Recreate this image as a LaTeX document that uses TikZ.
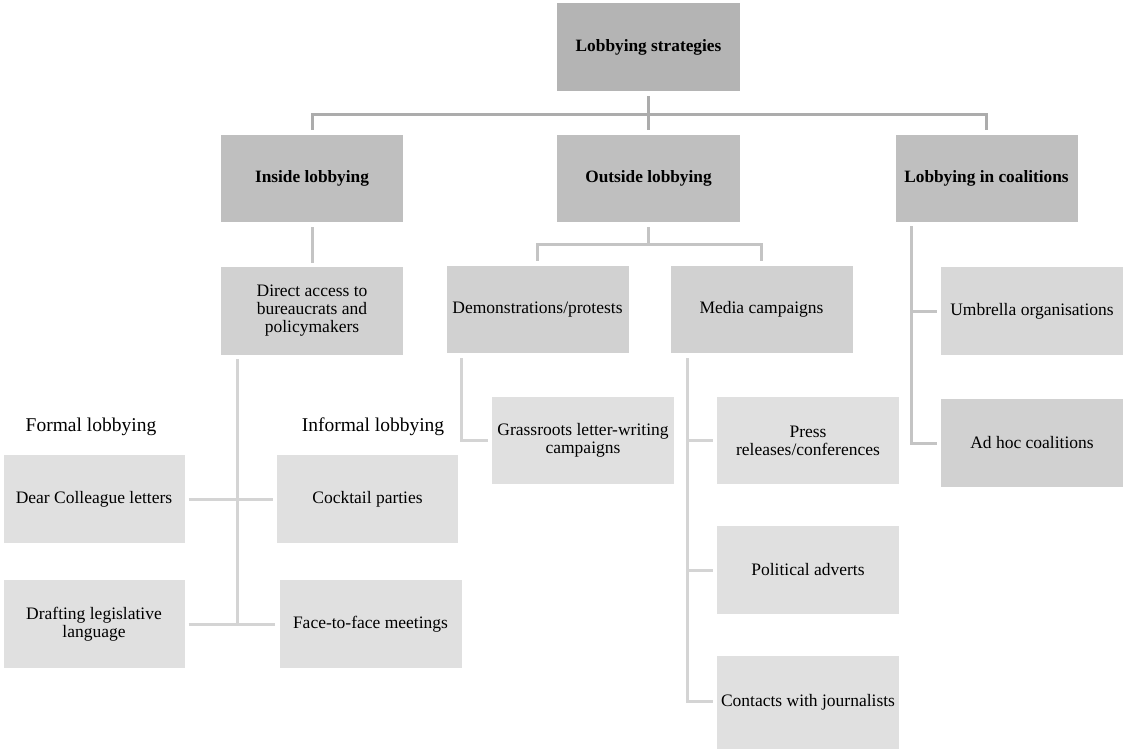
\documentclass[tikz,border=0pt]{standalone}
\usepackage{fontspec}
\setmainfont{Liberation Serif}
\usepackage{xcolor}
\definecolor{boxtop}{RGB}{180,180,180}
\definecolor{boxmain}{RGB}{191,191,191}
\definecolor{boxsub}{RGB}{209,209,209}
\definecolor{boxumb}{RGB}{216,216,216}
\definecolor{boxleaf}{RGB}{224,224,224}
\definecolor{linktop}{RGB}{172,172,172}
\definecolor{linkmain}{RGB}{196,196,196}
\definecolor{linksub}{RGB}{212,212,212}

\begin{document}
\begin{tikzpicture}[x=1pt,y=-1pt,
  box/.style={rectangle,inner sep=0pt,minimum width=182pt,minimum height=88pt,
    align=center,font=\fontsize{17.5}{18}\selectfont},
  headbox/.style={box,font=\bfseries\fontsize{17.3}{20}\selectfont},
  label/.style={inner sep=0pt,font=\fontsize{19.5}{20}\selectfont},
  ltop/.style={draw=linktop,line width=3pt},
  lmain/.style={draw=linkmain,line width=3pt},
  lsub/.style={draw=linksub,line width=3pt}]
  \useasboundingbox (0,0) rectangle (1123,749);
  \node[headbox,fill=boxtop,minimum width=183pt] (top) at (648.5,47) {Lobbying strategies};
  \node[headbox,fill=boxmain,minimum height=87pt] (inside) at (312,178.5) {Inside lobbying};
  \node[headbox,fill=boxmain,minimum height=87pt,minimum width=183pt] (outside) at (648.5,178.5) {Outside lobbying};
  \node[headbox,fill=boxmain,minimum height=87pt] (coal) at (986.5,178.5) {Lobbying in coalitions};
  \node[box,fill=boxsub] (direct) at (312,311) {Direct access to\\bureaucrats and\\policymakers};
  \node[box,fill=boxsub,minimum height=87pt] (demo) at (537.5,309.5) {Demonstrations/protests};
  \node[box,fill=boxsub,minimum height=87pt] (media) at (761.5,309.5) {Media campaigns};
  \node[box,fill=boxumb] (umb) at (1032,311) {Umbrella organisations};
  \node[box,fill=boxsub] (adhoc) at (1032,443) {Ad hoc coalitions};
  \node[box,fill=boxleaf,minimum height=87pt] (grass) at (583,440.5) {Grassroots letter-writing\\campaigns};
  \node[box,fill=boxleaf,minimum height=87pt] (press) at (808,440.5) {Press\\releases/conferences};
  \node[box,fill=boxleaf] (political) at (808,570) {Political adverts};
  \node[box,fill=boxleaf,minimum height=93pt] (contacts) at (808,702.5) {Contacts with journalists};
  \node[label] (formal) at (91,427) {Formal lobbying};
  \node[label] (informal) at (373,427) {Informal lobbying};
  \node[box,fill=boxleaf,minimum width=181pt] (dear) at (94,499) {Dear Colleague letters};
  \node[box,fill=boxleaf,minimum width=181pt] (cocktail) at (367.5,499) {Cocktail parties};
  \node[box,fill=boxleaf,minimum width=181pt] (drafting) at (94,624) {Drafting legislative\\language};
  \node[box,fill=boxleaf] (face) at (370.5,624) {Face-to-face meetings};
  \coordinate (tj) at (648.5,115);
  \draw[ltop] ([yshift=-5pt]top.south) -- (tj);
  \draw[ltop] ([yshift=5pt]inside.north) |- (tj) -| ([yshift=5pt]coal.north);
  \draw[ltop] (tj) -- ([yshift=5pt]outside.north);
  \draw[lmain] ([yshift=-5pt]inside.south) -- ([yshift=4pt]direct.north);
  \coordinate (oj) at ([yshift=-22pt]outside.south);
  \draw[lmain] ([yshift=-5pt]outside.south) -- (oj);
  \draw[lmain] ([yshift=5pt]demo.north) |- (oj) -| ([yshift=5pt]media.north);
  \coordinate (cv) at ([xshift=16pt,yshift=-4pt]coal.south west);
  \draw[lmain] (cv) |- ([xshift=-4pt]adhoc.west);
  \draw[lmain] (cv |- umb.west) -- ([xshift=-4pt]umb.west);
  \coordinate (dv) at ([xshift=17pt,yshift=-4pt]direct.south west);
  \draw[lsub] (dv) -- (dv |- face.west);
  \draw[lsub] ([xshift=4pt]dear.east) -- ([xshift=-4pt]cocktail.west);
  \draw[lsub] ([xshift=4pt]drafting.east) -- ([xshift=-4pt]face.west);
  \coordinate (gv) at ([xshift=15pt,yshift=-5pt]demo.south west);
  \draw[lsub] (gv) |- ([xshift=-4pt]grass.west);
  \coordinate (mv) at ([xshift=17pt,yshift=-5pt]media.south west);
  \draw[lsub] (mv) -- (mv |- 0,701) -- ([xshift=-4pt]contacts.west |- 0,701);
  \foreach \n in {press,political}
    \draw[lsub] (mv |- \n.west) -- ([xshift=-4pt]\n.west);
\end{tikzpicture}
\end{document}
